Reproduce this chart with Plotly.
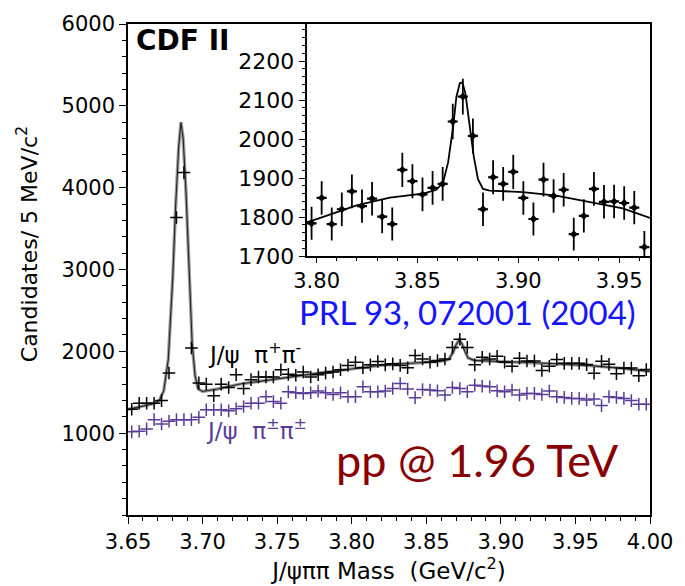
import numpy as np
import plotly.graph_objects as go

# J/psi pi pi invariant mass, 5 MeV bins from 3.65 to 4.00 GeV/c^2
bin_lo, bin_w, n_bins = 3.65, 0.005, 70
mass = [round(bin_lo + bin_w * (i + 0.5), 4) for i in range(n_bins)]

# opposite-sign pion pairs (J/psi pi+ pi-)
counts_os = [1293, 1365, 1365, 1365, 1398, 1735, 3635, 4184, 2040, 1614,
             1599, 1458, 1599, 1558, 1715, 1546, 1654, 1687, 1687, 1687,
             1775, 1719, 1707, 1747, 1687, 1714, 1735, 1747, 1775, 1828,
             1867, 1799, 1835, 1876, 1835, 1847, 1828, 1799, 1948, 1907,
             1867, 1888, 1907, 2048, 2148, 2048, 1835, 1928, 1907, 1940,
             1867, 1819, 1915, 1882, 1882, 1767, 1818, 1900, 1853, 1853,
             1853, 1838, 1733, 1878, 1841, 1727, 1797, 1795, 1703, 1777]

# same-sign pion pairs (J/psi pi+- pi+-)
counts_ss = [1016, 1024, 1052, 1165, 1112, 1145, 1165, 1165, 1165, 1193,
             1286, 1286, 1286, 1273, 1298, 1325, 1365, 1365, 1446, 1386,
             1365, 1506, 1494, 1486, 1494, 1514, 1494, 1473, 1494, 1446,
             1446, 1566, 1506, 1506, 1514, 1546, 1606, 1539, 1434, 1534,
             1527, 1518, 1466, 1558, 1546, 1506, 1587, 1575, 1566, 1518,
             1506, 1527, 1466, 1486, 1486, 1473, 1514, 1446, 1437, 1425,
             1425, 1406, 1418, 1337, 1446, 1437, 1425, 1398, 1353, 1353]

# fitted line shape over the full range
fit_mass = [3.650, 3.660, 3.667, 3.671, 3.674, 3.677, 3.680, 3.682, 3.684,
            3.6855, 3.687, 3.689, 3.691, 3.693, 3.695, 3.697, 3.700, 3.710,
            3.725, 3.740, 3.760, 3.780, 3.800, 3.820, 3.840, 3.860, 3.865,
            3.868, 3.870, 3.872, 3.874, 3.876, 3.878, 3.882, 3.900, 3.920,
            3.940, 3.960, 3.980, 4.000]
fit_vals = [1290, 1330, 1360, 1400, 1520, 1900, 2900, 3800, 4500,
            4800, 4600, 3900, 2900, 2100, 1700, 1540, 1510, 1540,
            1600, 1640, 1695, 1740, 1785, 1830, 1855, 1880, 1900,
            1990, 2080, 2140, 2090, 1990, 1920, 1890, 1875, 1865,
            1845, 1825, 1795, 1755]

# X(3872) region with tighter selection
zoom_mass = [round(3.7975 + bin_w * i, 4) for i in range(34)]
zoom_counts = [1784, 1849, 1782, 1820, 1866, 1828, 1847, 1801, 1782, 1921,
               1892, 1858, 1875, 1885, 2045, 2109, 2008, 1820, 1902, 1885,
               1916, 1849, 1795, 1896, 1854, 1870, 1756, 1803, 1872, 1839,
               1840, 1836, 1824, 1723]
zoom_fit_mass = [3.795, 3.7975, 3.8198, 3.8363, 3.8528, 3.8594, 3.8627,
                 3.8652, 3.8677, 3.8693, 3.8710, 3.8723, 3.8738, 3.8760,
                 3.8779, 3.8800, 3.8825, 3.8858, 3.9023, 3.9188, 3.9353,
                 3.9518, 3.9653]
zoom_fit_vals = [1787, 1790, 1830, 1850, 1860, 1870, 1889,
                 1940, 2032, 2108, 2143, 2145, 2116, 2032,
                 1956, 1897, 1872, 1868, 1864, 1855, 1839,
                 1822, 1798]

main_ticks_x = [3.65, 3.70, 3.75, 3.80, 3.85, 3.90, 3.95, 4.00]
main_ticks_y = [1000, 2000, 3000, 4000, 5000, 6000]
zoom_ticks_x = [3.80, 3.85, 3.90, 3.95]
zoom_ticks_y = [1700, 1800, 1900, 2000, 2100, 2200]

PURPLE = "#5a3c98"
TICK_FONT = dict(family="DejaVu Sans", size=21, color="black")
INSET_TICK_FONT = dict(family="DejaVu Sans", size=21, color="black")

fig = go.Figure()

# main panel: fit curve, then both data sets
fig.add_trace(go.Scatter(x=fit_mass, y=fit_vals, mode="lines",
                         line=dict(color="#a0a0a0", width=3.4),
                         hoverinfo="skip", showlegend=False))
fig.add_trace(go.Scatter(x=fit_mass, y=fit_vals, mode="lines",
                         line=dict(color="#222222", width=1.1),
                         showlegend=False))
fig.add_trace(go.Scatter(x=mass, y=counts_ss, mode="markers",
                         marker=dict(symbol="cross-thin", size=9,
                                     line=dict(color=PURPLE, width=1.5)),
                         showlegend=False))
fig.add_trace(go.Scatter(x=mass, y=counts_os, mode="markers",
                         marker=dict(symbol="cross-thin", size=9,
                                     line=dict(color="black", width=1.5)),
                         showlegend=False))

# inset panel
fig.add_trace(go.Scatter(x=zoom_fit_mass, y=zoom_fit_vals, mode="lines",
                         line=dict(color="black", width=1.8),
                         xaxis="x2", yaxis="y2", showlegend=False))
fig.add_trace(go.Scatter(x=zoom_mass, y=zoom_counts, mode="markers",
                         marker=dict(symbol="diamond", size=6, color="black"),
                         error_y=dict(type="data", array=np.sqrt(zoom_counts),
                                      color="black", thickness=1.8, width=0),
                         error_x=dict(type="constant", value=bin_w / 2,
                                      color="black", thickness=2.2, width=0),
                         xaxis="x2", yaxis="y2", showlegend=False))

fig.update_layout(
    width=685, height=586,
    margin=dict(l=128, r=34, t=16, b=70),
    paper_bgcolor="white", plot_bgcolor="white",
    font=dict(family="DejaVu Sans", color="black"),
    xaxis=dict(range=[3.65, 4.00], tickvals=main_ticks_x,
               ticktext=[f"{v:.2f}" for v in main_ticks_x],
               showgrid=False, zeroline=False, showline=True, mirror=True,
               linecolor="black", linewidth=1.5,
               ticks="outside", ticklen=7, tickwidth=1.2, tickcolor="black",
               minor=dict(dtick=0.01, ticks="outside", ticklen=4,
                          tickcolor="black", tickwidth=1),
               tickfont=TICK_FONT,
               title=dict(text="J/\u03c8\u03c0\u03c0 Mass\u00a0\u00a0(GeV/c<sup>2</sup>)",
                          font=dict(family="DejaVu Sans", size=23),
                          standoff=4)),
    yaxis=dict(range=[0, 6000], tickvals=main_ticks_y,
               showgrid=False, zeroline=False, showline=True, mirror=True,
               linecolor="black", linewidth=1.5,
               ticks="outside", ticklen=7, tickwidth=1.2, tickcolor="black",
               minor=dict(dtick=200, ticks="outside", ticklen=4,
                          tickcolor="black", tickwidth=1),
               tickfont=TICK_FONT),
    xaxis2=dict(domain=[0.342, 1.0], anchor="y2", range=[3.795, 3.9653],
                tickvals=zoom_ticks_x,
                ticktext=[f"{v:.2f}" for v in zoom_ticks_x],
                showgrid=False, zeroline=False, showline=True, mirror=True,
                linecolor="black", linewidth=1.5,
                ticks="outside", ticklen=5, tickwidth=1.2, tickcolor="black",
                minor=dict(dtick=0.01, ticks="outside", ticklen=3,
                           tickcolor="black"),
                tickfont=INSET_TICK_FONT),
    yaxis2=dict(domain=[0.5274, 1.0], anchor="x2", range=[1700, 2295],
                tickvals=zoom_ticks_y,
                showgrid=False, zeroline=False, showline=True, mirror=True,
                linecolor="black", linewidth=1.5,
                ticks="outside", ticklen=6, tickwidth=1.2, tickcolor="black",
                minor=dict(dtick=20, ticks="outside", ticklen=3,
                           tickcolor="black"),
                tickfont=dict(family="DejaVu Sans", size=22, color="black")),
)

# white backing for the inset frame
fig.add_shape(type="rect", xref="x2 domain", yref="y2 domain",
              x0=0, x1=1, y0=0, y1=1, fillcolor="white",
              line=dict(width=0), layer="below")

# vertical axis title
fig.add_annotation(text="Candidates/ 5 MeV/c<sup>2</sup>",
                   xref="paper", yref="paper", x=-0.192, y=0.551,
                   xanchor="center", yanchor="middle", textangle=-90,
                   showarrow=False,
                   font=dict(family="DejaVu Sans", size=22, color="black"))

fig.add_annotation(text="<b>CDF II</b>", xref="paper", yref="paper",
                   x=0.012, y=0.966, xanchor="left", yanchor="middle",
                   showarrow=False,
                   font=dict(family="DejaVu Sans", size=28, color="black"))
fig.add_annotation(text="J/\u03c8\u00a0\u00a0\u03c0<sup>+</sup>\u03c0<sup>-</sup>",
                   xref="paper", yref="paper", x=0.150, y=0.33,
                   xanchor="left", yanchor="middle", showarrow=False,
                   font=dict(family="DejaVu Sans", size=23, color="black"))
fig.add_annotation(text="J/\u03c8\u00a0\u00a0\u03c0<sup>\u00b1</sup>\u03c0<sup>\u00b1</sup>",
                   xref="paper", yref="paper", x=0.146, y=0.176,
                   xanchor="left", yanchor="middle", showarrow=False,
                   font=dict(family="DejaVu Sans", size=23, color=PURPLE))
fig.add_annotation(text="PRL 93, 072001 (2004)", xref="paper", yref="paper",
                   x=0.651, y=0.413, xanchor="center", yanchor="middle",
                   showarrow=False,
                   font=dict(family="Lato", size=33, color="#1414ff"))
fig.add_annotation(text="pp @ 1.96 TeV", xref="paper", yref="paper",
                   x=0.670, y=0.112, xanchor="center", yanchor="middle",
                   showarrow=False,
                   font=dict(family="Lato", size=45, color="#880000"))

fig.write_html("out.html")
